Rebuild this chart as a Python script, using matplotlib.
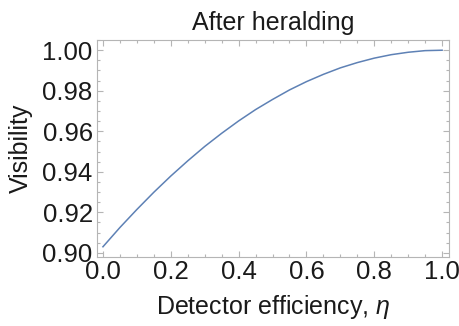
import matplotlib
matplotlib.use("Agg")
import matplotlib.pyplot as plt
from matplotlib.ticker import MultipleLocator

# values
eta = [0.0, 0.05, 0.1, 0.15, 0.2, 0.25, 0.3, 0.35, 0.4, 0.45, 0.5,
       0.55, 0.6, 0.65, 0.7, 0.75, 0.8, 0.85, 0.9, 0.95, 1.0]
visibility = [0.903, 0.9125, 0.9214, 0.9299, 0.9379, 0.9454, 0.9525, 0.959,
              0.9651, 0.9707, 0.9757, 0.9804, 0.9845, 0.9881, 0.9913, 0.9939,
              0.9961, 0.9978, 0.999, 0.9998, 1.0]
x_ticks = [0.0, 0.2, 0.4, 0.6, 0.8, 1.0]
y_ticks = [0.90, 0.92, 0.94, 0.96, 0.98, 1.00]

plt.rcParams['font.family'] = ['Liberation Sans', 'DejaVu Sans']
plt.rcParams['mathtext.fontset'] = 'custom'
plt.rcParams['mathtext.it'] = 'Liberation Sans:italic'

fig = plt.figure(figsize=(4.59, 3.26), dpi=100)
ax = fig.add_axes([0.211, 0.212, 0.767, 0.665])

ax.plot(eta, visibility, color='#5E81B5', lw=1.1)

ax.set_xlim(-0.018, 1.02)
ax.set_ylim(0.898, 1.005)
ax.set_xticks(x_ticks)
ax.set_xticklabels([f"{t:.1f}" for t in x_ticks])
ax.set_yticks(y_ticks)
ax.set_yticklabels([f"{t:.2f}" for t in y_ticks])
ax.xaxis.set_minor_locator(MultipleLocator(0.05))
ax.yaxis.set_minor_locator(MultipleLocator(0.005))

frame = '#b5b5b5'
for s in ax.spines.values():
    s.set_color(frame)
    s.set_linewidth(0.8)
ax.tick_params(which='both', direction='in', top=True, right=True,
               color=frame, width=0.8, labelsize=18.5, labelcolor='#1a1a1a')
ax.tick_params(which='major', length=4)
ax.tick_params(which='minor', length=2)
ax.tick_params(axis='x', which='major', pad=2.5)
ax.tick_params(axis='y', which='major', pad=3)

ax.set_title('After heralding', fontsize=18, color='#1a1a1a', pad=7)
ax.set_xlabel(r'Detector efficiency, $\eta$', fontsize=18, color='#1a1a1a', labelpad=6.5)
ax.set_ylabel('Visibility', fontsize=18, color='#1a1a1a', labelpad=7)

fig.savefig('out.png', dpi=100)
